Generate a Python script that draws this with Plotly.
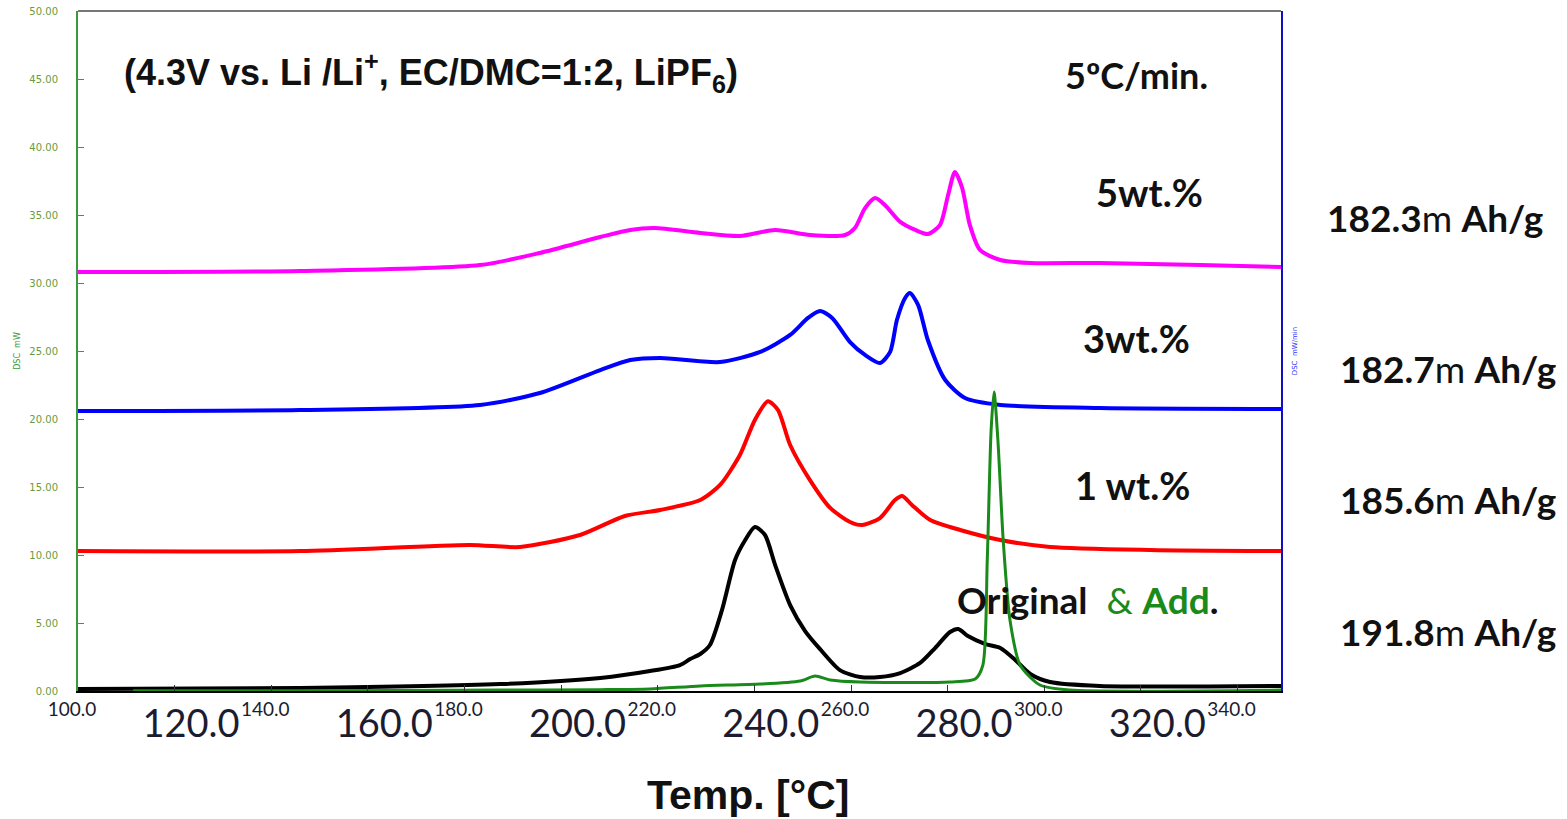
import plotly.graph_objects as go

# ---------------- data (temperature axis of the DSC trace, mW) ----------------
x_5wt = [100.0, 146.0, 183.2, 195.6, 208.1, 214.3, 219.4, 228.8, 237.0, 244.3, 251.5, 258.8,
         260.8, 262.9, 265.0, 267.0, 270.2, 273.3, 275.9, 278.4, 280.1, 281.5, 283.0, 284.6,
         286.7, 290.9, 297.1, 311.5, 332.3, 349.0]
y_5wt = [30.81, 30.88, 31.32, 32.21, 33.38, 33.90, 34.04, 33.68, 33.46, 33.90, 33.53, 33.53,
         34.04, 35.51, 36.25, 35.74, 34.49, 33.90, 33.60, 34.26, 36.47, 38.16, 37.00, 34.26,
         32.43, 31.69, 31.47, 31.47, 31.32, 31.18]

x_3wt = [100.0, 146.0, 183.2, 195.6, 208.1, 214.3, 220.5, 232.9, 241.2, 247.4, 251.1, 253.6,
         256.1, 259.8, 262.9, 266.0, 268.1, 269.5, 271.2, 272.2, 273.9, 275.9, 279.5, 283.6,
         290.9, 311.5, 349.0]
y_3wt = [20.59, 20.66, 21.03, 21.91, 23.60, 24.34, 24.49, 24.19, 24.93, 26.18, 27.43, 27.94,
         27.43, 25.66, 24.71, 24.12, 24.93, 27.28, 28.90, 29.26, 28.38, 25.81, 22.87, 21.54,
         21.03, 20.81, 20.74]

x_1wt = [100.0, 146.0, 181.1, 191.5, 203.9, 213.2, 220.5, 228.8, 232.9, 237.0, 240.1, 242.8,
         244.9, 247.4, 251.5, 255.7, 259.8, 262.3, 266.0, 269.1, 270.6, 272.6, 276.4, 282.6,
         290.9, 301.2, 321.9, 349.0]
y_1wt = [10.29, 10.29, 10.74, 10.59, 11.47, 12.87, 13.31, 14.04, 15.15, 17.35, 19.93, 21.30,
         20.66, 18.09, 15.51, 13.46, 12.43, 12.21, 12.72, 14.04, 14.34, 13.68, 12.57, 11.84,
         11.10, 10.59, 10.37, 10.29]

x_orig = [100.0, 146.0, 187.4, 208.1, 218.4, 224.6, 226.7, 228.8, 230.8, 233.3, 236.0, 238.1,
          240.1, 242.2, 244.3, 247.4, 250.5, 253.6, 257.7, 261.9, 266.0, 270.2, 274.3, 277.4,
          280.5, 282.2, 284.2, 287.7, 290.9, 294.0, 297.1, 301.2, 311.5, 349.0]
y_orig = [0.15, 0.22, 0.51, 0.96, 1.47, 1.91, 2.35, 2.72, 3.38, 5.96, 9.63, 11.10,
          12.06, 11.47, 9.26, 6.32, 4.41, 3.08, 1.54, 1.03, 1.03, 1.32, 2.06, 3.16,
          4.34, 4.56, 4.04, 3.46, 3.16, 2.28, 1.25, 0.66, 0.37, 0.37]

x_add = [111.4, 146.0, 187.4, 208.1, 218.4, 228.8, 241.2, 249.5, 252.6, 255.7, 261.9, 280.5,
         285.7, 287.3, 288.2, 289.0, 289.6, 290.4, 291.5, 292.9, 295.0, 299.1, 305.3, 349.0]
y_add = [0.02, 0.02, 0.07, 0.10, 0.15, 0.37, 0.51, 0.74, 1.10, 0.81, 0.66, 0.66,
         0.88, 1.91, 9.63, 19.19, 21.99, 18.46, 11.10, 5.22, 1.91, 0.44, 0.07, 0.07]

# tick labels
small_ticks = [100, 120, 140, 160, 180, 200, 220, 240, 260, 280, 300, 320, 340]
small_text = ["100.0", "", "140.0", "", "180.0", "", "220.0", "", "260.0", "", "300.0", "", "340.0"]
big_ticks = [120, 160, 200, 240, 280, 320]
big_text = ["120.0", "160.0", "200.0", "240.0", "280.0", "320.0"]
y_ticks = [0, 5, 10, 15, 20, 25, 30, 35, 40, 45, 50]
y_text = ["0.00", "5.00", "10.00", "15.00", "20.00", "25.00", "30.00", "35.00", "40.00", "45.00", "50.00"]

series = [
    ("5wt.%", x_5wt, y_5wt, "#ff00ff", 4),
    ("3wt.%", x_3wt, y_3wt, "#0000ff", 4),
    ("1 wt.%", x_1wt, y_1wt, "#ff0000", 4),
    ("Original", x_orig, y_orig, "#000000", 4),
    ("Add.", x_add, y_add, "#1a8a1a", 3),
]

fig = go.Figure()
for name, xs, ys, col, w in series:
    fig.add_trace(go.Scatter(x=xs, y=ys, mode="lines", name=name,
                             line=dict(color=col, width=w, shape="spline", smoothing=0.7),
                             showlegend=False))
# helper trace linking the overlay axes
fig.add_trace(go.Scatter(x=[], y=[], xaxis="x2", yaxis="y2", showlegend=False, hoverinfo="skip"))

GREEN = "#3a9a3a"
fig.update_layout(
    width=1567, height=819, autosize=False,
    margin=dict(l=78, r=286, t=11, b=128, autoexpand=False),
    paper_bgcolor="white", plot_bgcolor="white",
    xaxis=dict(range=[100, 349], tickvals=small_ticks, ticktext=small_text, automargin=False,
               ticks="inside", ticklen=6, tickcolor="#333", tickwidth=1,
               showline=True, linecolor="#000", linewidth=2, showgrid=False, zeroline=False,
               tickfont=dict(family="Lato", size=19, color="#1c1c30"), ticklabelstandoff=0,
               ticklabelshift=-6),
    xaxis2=dict(range=[96.6, 345.6], overlaying="x", side="bottom", tickvals=big_ticks,
                ticktext=big_text, ticks="", showline=False, showgrid=False, zeroline=False,
                automargin=False,
                tickfont=dict(family="Lato", size=38, color="#1c1c30"), ticklabelstandoff=7),
    yaxis=dict(range=[0, 50], tickvals=y_ticks, ticktext=y_text, ticks="inside", ticklen=6,
               tickcolor=GREEN, showline=True, linecolor=GREEN, linewidth=2, automargin=False,
               showgrid=False, zeroline=False,
               tickfont=dict(family="DejaVu Sans", size=10, color="#6a9a3a"), ticklabelstandoff=16,
               title=dict(text="DSC  mW", font=dict(family="DejaVu Sans", size=8, color=GREEN),
                          standoff=8)),
    yaxis2=dict(range=[0, 50], overlaying="y", side="right", showline=True, linecolor="#1010c0",
                linewidth=2, showticklabels=False, ticks="", showgrid=False, zeroline=False,
                automargin=False,
                title=dict(text="DSC  mW/min", font=dict(family="DejaVu Sans", size=7, color="#3030ff"),
                           standoff=10)),
    shapes=[dict(type="line", xref="paper", yref="paper", x0=0, x1=1, y0=1, y1=1,
                 line=dict(color="#777", width=2))],
)

ann = []
def add(text, x, y, xanchor, size, color="#111", family="Lato", xref="paper", yref="paper"):
    ann.append(dict(text=text, x=x, y=y, xref=xref, yref=yref, xanchor=xanchor, yanchor="middle",
                    showarrow=False, font=dict(family=family, size=size, color=color)))

add("<b>(4.3V vs. Li /Li<sup>+</sup>, EC/DMC=1:2, LiPF<sub>6</sub>)</b>", 0.0366, 0.909, "left", 36,
    family="Liberation Sans")
add("<b>5ºC/min.</b>", 0.941, 0.906, "right", 36)
add("<b>5wt.%</b>", 0.937, 0.734, "right", 38)
add("<b>3wt.%</b>", 0.926, 0.519, "right", 38)
add("<b>1 wt.%</b>", 0.926, 0.303, "right", 38)
add("<b>Original</b>  <span style='color:#1a8a1a'>&amp;</span> <b><span style='color:#1a8a1a'>Add</span>.</b>",
    0.729, 0.134, "left", 37)
add("<b>182.3</b>m <b>Ah/g</b>", 1.0366, 0.6956, "left", 37)
add("<b>182.7</b>m <b>Ah/g</b>", 1.0474, 0.475, "left", 37)
add("<b>185.6</b>m <b>Ah/g</b>", 1.0474, 0.281, "left", 37)
add("<b>191.8</b>m <b>Ah/g</b>", 1.0474, 0.0868, "left", 37)
add("<b>Temp. [°C]</b>", 0.557, -0.153, "center", 41, family="Liberation Sans")
fig.update_layout(annotations=ann)

fig.write_html("out.html")
